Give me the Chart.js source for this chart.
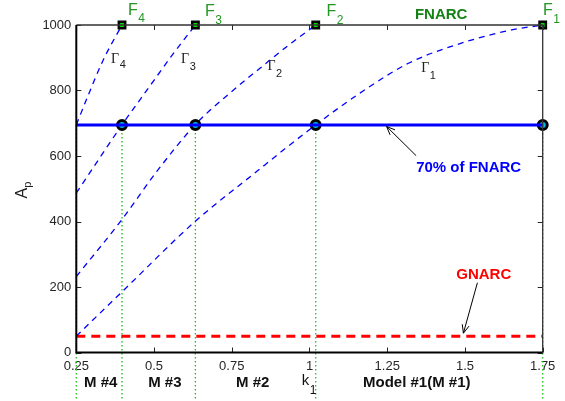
<!DOCTYPE html>
<html><head><meta charset="utf-8">
<style>html,body{margin:0;padding:0;background:#fff;overflow:hidden}canvas{display:block}</style>
<script src="https://cdn.jsdelivr.net/npm/chart.js@4.4.1/dist/chart.umd.min.js"></script>
</head><body>
<canvas id="c" width="565" height="401"></canvas>
<script>
// ---- data ----
const xTicks = [0.25, 0.5, 0.75, 1, 1.25, 1.5, 1.75];
const xTickLabels = ['0.25', '0.5', '0.75', '1', '1.25', '1.5', '1.75'];
const yTicks = [0, 200, 400, 600, 800, 1000];
const yTickLabels = ['0', '200', '400', '600', '800', '1000'];
const fPointsK = [1.75, 1.02, 0.633, 0.397];   // F1..F4 on k1 axis
const fnarc = 1000;
const fnarc70 = 695;
const gnarc = 50;
const guideK = [0.25, 0.397, 0.633, 1.02, 1.75];
const guideBottom = -150;
const gamma1K = [0.25, 0.4, 0.632, 0.82, 1.02, 1.17, 1.32, 1.5, 1.65, 1.75];
const gamma1A = [50, 188, 400, 545, 695, 797, 884, 948, 985, 1000];
const gamma2K = [0.25, 0.396, 0.509, 0.632, 0.745, 0.868, 0.943, 1.02];
const gamma2A = [232, 405, 553, 695, 793, 889, 946, 1000];
const gamma3K = [0.25, 0.397, 0.48, 0.56, 0.633];
const gamma3A = [487, 695, 805, 910, 1000];
const gamma4K = [0.25, 0.289, 0.337, 0.397];
const gamma4A = [695, 787, 894, 1000];

const pts = (xs, ys) => xs.map((v, i) => ({x: v, y: ys[i]}));
const hline = (v) => [{x: 0.25, y: v}, {x: 1.75, y: v}];
const BLUE = '#0000ff';

const datasets = [];
guideK.forEach(k => datasets.push({
  data: [{x: k, y: fnarc70}, {x: k, y: guideBottom}], showLine: true, clip: false,
  borderColor: 'rgb(30,190,30)', borderWidth: 1.3, borderDash: [1.5, 2.5], pointRadius: 0, order: 20
}));
datasets.push({data: hline(gnarc), showLine: true, borderColor: '#ff0000', borderWidth: 3,
  borderDash: [9, 6], pointRadius: 0, order: 15});
[[gamma1K, gamma1A], [gamma2K, gamma2A], [gamma3K, gamma3A], [gamma4K, gamma4A]].forEach(([a, b]) =>
  datasets.push({data: pts(a, b), showLine: true, borderColor: BLUE, borderWidth: 1.3,
    borderDash: [6, 5], pointRadius: 0, cubicInterpolationMode: 'monotone', order: 12}));
datasets.push({data: fPointsK.map(k => ({x: k, y: fnarc70})), showLine: false, clip: false,
  pointRadius: 4.5, pointBorderWidth: 3, pointBorderColor: '#000', pointBackgroundColor: 'rgb(0,190,230)', order: 11});
datasets.push({data: hline(fnarc70), showLine: true, borderColor: BLUE, borderWidth: 3,
  pointRadius: 0, order: 10});
datasets.push({data: fPointsK.map(k => ({x: k, y: fnarc})), showLine: false, clip: false,
  pointStyle: 'rect', pointRadius: 4.5, pointBorderWidth: 2.5, pointBorderColor: '#000',
  pointBackgroundColor: '#00dd00', order: 4});

// ---- annotations (data coordinates) ----
const SANS = '"Liberation Sans", Arial, Helvetica, sans-serif';
const SERIF = '"Liberation Serif", "Times New Roman", serif';
const GREEN = 'rgb(35,150,35)';
const subTexts = [
  {m: 'F', s: '4', x: 0.416, y: 1032, dy: 7, mf: '16px ' + SANS, sf: '12px ' + SANS, c: GREEN},
  {m: 'F', s: '3', x: 0.664, y: 1027, dy: 8, mf: '16px ' + SANS, sf: '12px ' + SANS, c: GREEN},
  {m: 'F', s: '2', x: 1.055, y: 1027, dy: 8, mf: '16px ' + SANS, sf: '12px ' + SANS, c: GREEN},
  {m: 'F', s: '1', x: 1.751, y: 1032, dy: 8, mf: '16px ' + SANS, sf: '12px ' + SANS, c: GREEN},
  {m: '\u0393', s: '4', x: 0.362, y: 885, dy: 5, mf: '14px ' + SERIF, sf: '11px ' + SANS, c: '#222'},
  {m: '\u0393', s: '3', x: 0.587, y: 885, dy: 7, mf: '14px ' + SERIF, sf: '11px ' + SANS, c: '#222'},
  {m: '\u0393', s: '2', x: 0.865, y: 864, dy: 7, mf: '14px ' + SERIF, sf: '11px ' + SANS, c: '#222'},
  {m: '\u0393', s: '1', x: 1.359, y: 855, dy: 7, mf: '14px ' + SERIF, sf: '11px ' + SANS, c: '#222'},
  {m: 'k', s: '1', x: 0.975, y: -99, dy: 9, mf: '15px ' + SANS, sf: '12px ' + SANS, c: '#111'}
];
const texts = [
  {t: 'FNARC', x: 1.339, y: 1018, f: 'bold 15px ' + SANS, c: 'rgb(20,130,20)'},
  {t: '70% of FNARC', x: 1.343, y: 550, f: 'bold 15px ' + SANS, c: '#0000ff'},
  {t: 'GNARC', x: 1.472, y: 225, f: 'bold 15px ' + SANS, c: '#ff0000'},
  {t: 'M #4', x: 0.275, y: -106, f: 'bold 15px ' + SANS, c: '#111'},
  {t: 'M #3', x: 0.481, y: -106, f: 'bold 15px ' + SANS, c: '#111'},
  {t: 'M #2', x: 0.764, y: -106, f: 'bold 15px ' + SANS, c: '#111'},
  {t: 'Model #1(M #1)', x: 1.172, y: -106, f: 'bold 15px ' + SANS, c: '#111'}
];
const arrows = [
  {x1: 1.343, y1: 601, x2: 1.248, y2: 690},
  {x1: 1.540, y1: 213, x2: 1.495, y2: 59}
];

const deco = {
  id: 'deco',
  afterDatasetsDraw(chart) {
    const {ctx, chartArea: a, scales: {x, y}} = chart;
    const X = v => x.getPixelForValue(v), Y = v => y.getPixelForValue(v);
    ctx.save();
    ctx.strokeStyle = '#262626'; ctx.lineWidth = 1;
    ctx.beginPath();
    xTicks.forEach(v => { const p = Math.round(X(v)) + 0.5;
      ctx.moveTo(p, a.bottom); ctx.lineTo(p, a.bottom - 5);
      ctx.moveTo(p, a.top); ctx.lineTo(p, a.top + 5); });
    yTicks.forEach(v => { const p = Math.round(Y(v)) + 0.5;
      ctx.moveTo(a.left, p); ctx.lineTo(a.left + 5, p);
      ctx.moveTo(a.right, p); ctx.lineTo(a.right - 5, p); });
    ctx.stroke();
    ctx.strokeStyle = '#333'; ctx.lineWidth = 1.3;
    ctx.beginPath(); ctx.moveTo(a.left, a.top); ctx.lineTo(a.right, a.top); ctx.lineTo(a.right, a.bottom); ctx.stroke();
    ctx.strokeStyle = '#000'; ctx.lineWidth = 2;
    ctx.beginPath(); ctx.moveTo(a.left, a.top); ctx.lineTo(a.left, a.bottom); ctx.lineTo(a.right, a.bottom); ctx.stroke();
    ctx.restore();
  },
  afterDraw(chart) {
    const {ctx, chartArea: a, scales: {x, y}} = chart;
    const X = v => x.getPixelForValue(v), Y = v => y.getPixelForValue(v);
    ctx.save();
    ctx.textAlign = 'left'; ctx.textBaseline = 'alphabetic';
    subTexts.forEach(o => {
      ctx.fillStyle = o.c; ctx.font = o.mf;
      const px = X(o.x), py = Y(o.y);
      ctx.fillText(o.m, px, py);
      const w = ctx.measureText(o.m).width;
      ctx.font = o.sf; ctx.fillText(o.s, px + w + 0.5, py + o.dy);
    });
    texts.forEach(o => { ctx.fillStyle = o.c; ctx.font = o.f; ctx.fillText(o.t, X(o.x), Y(o.y)); });
    ctx.strokeStyle = '#000'; ctx.lineWidth = 1;
    arrows.forEach(o => {
      const x1 = X(o.x1), y1 = Y(o.y1), x2 = X(o.x2), y2 = Y(o.y2);
      const ang = Math.atan2(y2 - y1, x2 - x1), L = 9, sp = 0.4;
      ctx.beginPath(); ctx.moveTo(x1, y1); ctx.lineTo(x2, y2);
      ctx.moveTo(x2 - L * Math.cos(ang - sp), y2 - L * Math.sin(ang - sp));
      ctx.lineTo(x2, y2);
      ctx.lineTo(x2 - L * Math.cos(ang + sp), y2 - L * Math.sin(ang + sp));
      ctx.stroke();
    });
    ctx.translate(a.left - 49, Y(495));
    ctx.rotate(-Math.PI / 2);
    ctx.fillStyle = '#222'; ctx.font = '16px ' + SANS;
    ctx.textAlign = 'left';
    ctx.fillText('A', -8, 0);
    const wA = ctx.measureText('A').width;
    ctx.font = '11px ' + SANS; ctx.fillText('p', -8 + wA, 4);
    ctx.restore();
  }
};

new Chart(document.getElementById('c'), {
  type: 'scatter',
  data: {datasets},
  options: {
    responsive: false, animation: false, devicePixelRatio: 1,
    layout: {padding: {left: 0, top: 25, right: 22.3, bottom: 0}},
    plugins: {legend: {display: false}, tooltip: {enabled: false}},
    scales: {
      x: {type: 'linear', min: 0.25, max: 1.75,
        grid: {display: false, drawTicks: false}, border: {display: false},
        ticks: {stepSize: 0.25, padding: 6, color: '#262626', font: {family: SANS, size: 13},
          maxRotation: 0, autoSkip: false,
          callback: v => { const i = xTicks.findIndex(t => Math.abs(t - v) < 1e-9); return i >= 0 ? xTickLabels[i] : ''; }},
        afterFit: s => { s.height = 48.5; }},
      y: {min: 0, max: 1000,
        grid: {display: false, drawTicks: false}, border: {display: false},
        ticks: {stepSize: 200, padding: 5, color: '#262626', font: {family: SANS, size: 13},
          callback: v => { const i = yTicks.findIndex(t => Math.abs(t - v) < 1e-9); return i >= 0 ? yTickLabels[i] : ''; }},
        afterFit: s => { s.width = 76.3; }}
    }
  },
  plugins: [deco]
});
</script>
</body></html>
